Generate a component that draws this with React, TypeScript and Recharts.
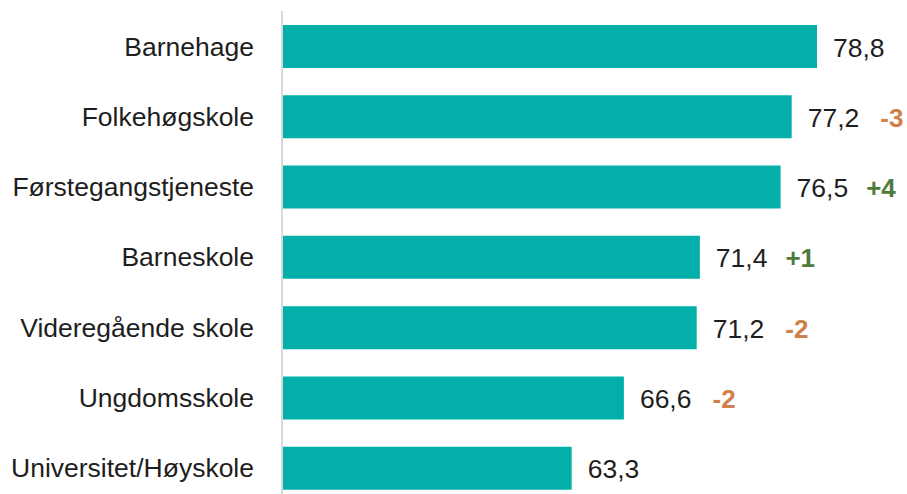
import { BarChart, Bar, XAxis, YAxis, LabelList } from 'recharts';

const categories = [
  'Barnehage',
  'Folkehøgskole',
  'Førstegangstjeneste',
  'Barneskole',
  'Videregående skole',
  'Ungdomsskole',
  'Universitet/Høyskole',
];
const scores = [78.8, 77.2, 76.5, 71.4, 71.2, 66.6, 63.3];
const changes = ['', '-3', '+4', '+1', '-2', '-2', ''];

const data = categories.map((name, i) => ({ name, score: scores[i], change: changes[i] }));

const FONT = '"Liberation Sans", Arial, sans-serif';

const ValueLabel = (props: any) => {
  const { x, y, width, height, index } = props;
  const change = changes[index];
  const val = scores[index].toFixed(1).replace('.', ',');
  const neg = change.startsWith('-');
  return (
    <text
      x={x + width + 16}
      y={y + height / 2 + 1}
      dominantBaseline="central"
      fontFamily={FONT}
      fontSize={26.5}
      fill="#1e1e1e"
    >
      {val}
      {change && (
        <tspan dx={neg ? 21 : 18} fontWeight="bold" fontSize={26} fill={neg ? '#d0804a' : '#4f7a3e'}>
          {change}
        </tspan>
      )}
    </text>
  );
};

export default function App() {
  return (
    <div style={{ position: 'absolute', left: 0, top: 0, width: 907, height: 494, overflow: 'hidden', background: '#fff' }}>
      <style>{'body{margin:0;overflow:hidden}'}</style>
      <BarChart
        width={907}
        height={503}
        data={data}
        layout="vertical"
        margin={{ top: 11, right: 71, left: 0, bottom: 0 }}
        barSize={43}
      >
        <XAxis type="number" domain={[45, 80]} hide allowDataOverflow />
        <YAxis
          type="category"
          dataKey="name"
          width={282}
          axisLine={{ stroke: '#d9d9d9', strokeWidth: 2 }}
          tickLine={false}
          tickSize={0}
          tickMargin={28}
          tick={{ fontFamily: FONT, fontSize: 26.5, fill: '#1e1e1e' }}
          interval={0}
        />
        <Bar dataKey="score" fill="#02b0a9" isAnimationActive={false}>
          <LabelList dataKey="score" content={<ValueLabel />} />
        </Bar>
      </BarChart>
    </div>
  );
}
